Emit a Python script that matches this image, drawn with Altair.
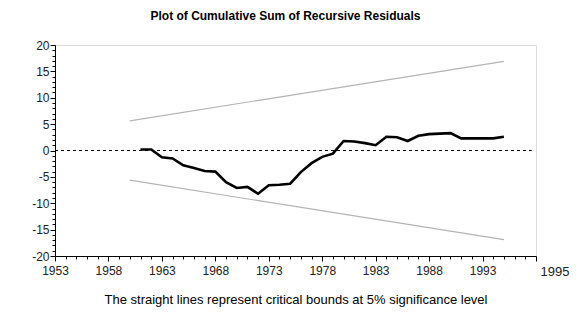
import altair as alt
import pandas as pd

years = list(range(1961, 1996))
cusum = [0.2, 0.2, -1.3, -1.5, -2.8, -3.3, -3.9, -4.0, -6.0, -7.1,
         -6.9, -8.2, -6.6, -6.5, -6.3, -4.1, -2.4, -1.2, -0.6, 1.8,
         1.7, 1.4, 1.0, 2.6, 2.5, 1.8, 2.8, 3.1, 3.2, 3.3,
         2.3, 2.3, 2.3, 2.3, 2.6]

bound_years = [1960, 1995]
upper_bound = [5.63, 16.9]
lower_bound = [-5.63, -16.9]

zero_years = [1953, 1997.6]
zero_vals = [0, 0]

x_ticks = list(range(1953, 1999))
y_ticks = list(range(-20, 21))

FONT = "Liberation Sans"

df_cusum = pd.DataFrame({"year": years, "value": cusum})
df_bounds = pd.DataFrame({
    "year": bound_years * 2,
    "value": upper_bound + lower_bound,
    "which": ["upper"] * 2 + ["lower"] * 2,
})
df_zero = pd.DataFrame({"year": zero_years, "value": zero_vals})

x_scale = alt.Scale(domain=[1953, 1998], nice=False, zero=False)
y_scale = alt.Scale(domain=[-20, 20], nice=False)

x_axis = alt.Axis(
    values=x_ticks,
    labelExpr="datum.value == 1998 ? '1995' : ((datum.value - 1953) % 5 == 0 ? datum.value : '')",
    tickSize={"condition": {"test": "(datum.value - 1953) % 5 == 0 || datum.value == 1998", "value": 5}, "value": 3},
    labelAlign={"condition": {"test": "datum.value == 1998", "value": "left"}, "value": "center"},
    labelOffset={"condition": {"test": "datum.value == 1998", "value": 4}, "value": 0},
    labelFontSize={"condition": {"test": "datum.value == 1998", "value": 13}, "value": 12},
    tickColor="#000000",
    domainColor="#000000",
    labelColor="#222222",
    labelFont=FONT,
    labelPadding=4,
    labelFlush=False,
    labelOverlap=False,
    grid=False,
    title="The straight lines represent critical bounds at 5% significance level",
    titleFont=FONT,
    titleFontSize=13,
    titleFontWeight="normal",
    titleColor="#000000",
    titlePadding=15,
)

y_axis = alt.Axis(
    values=y_ticks,
    labelExpr="datum.value % 5 == 0 ? datum.value : ''",
    tickSize={"condition": {"test": "datum.value % 5 == 0", "value": 5}, "value": 3},
    tickColor="#000000",
    domainColor="#000000",
    labelColor="#222222",
    labelFont=FONT,
    labelFontSize=12,
    labelPadding=1,
    labelOverlap=False,
    labelFlush=False,
    grid=False,
    title=None,
)

base_x = alt.X("year:Q", scale=x_scale, axis=x_axis)
base_y = alt.Y("value:Q", scale=y_scale, axis=y_axis)

zero = alt.Chart(df_zero).mark_line(
    color="#000000", strokeDash=[3, 3], strokeWidth=1.2
).encode(x=base_x, y=base_y)

bounds = alt.Chart(df_bounds).mark_line(
    color="#b4b4b4", strokeWidth=1.2
).encode(x=base_x, y=base_y, detail="which:N")

line = alt.Chart(df_cusum).mark_line(
    color="#000000", strokeWidth=2.6
).encode(x=base_x, y=base_y)

chart = alt.layer(zero, bounds, line).properties(
    width=481,
    height=211,
    title=alt.TitleParams(
        "Plot of Cumulative Sum of Recursive Residuals",
        font=FONT,
        fontSize=12,
        fontWeight="bold",
        color="#000000",
        offset=16,
        dx=-10,
    ),
    autosize=alt.AutoSizeParams(type="none"),
    padding={"left": 55, "top": 45, "right": 50, "bottom": 67},
).configure_view(stroke=None).configure(background="#ffffff")

chart.save("out.html", embed_options={"renderer": "svg", "actions": False})
